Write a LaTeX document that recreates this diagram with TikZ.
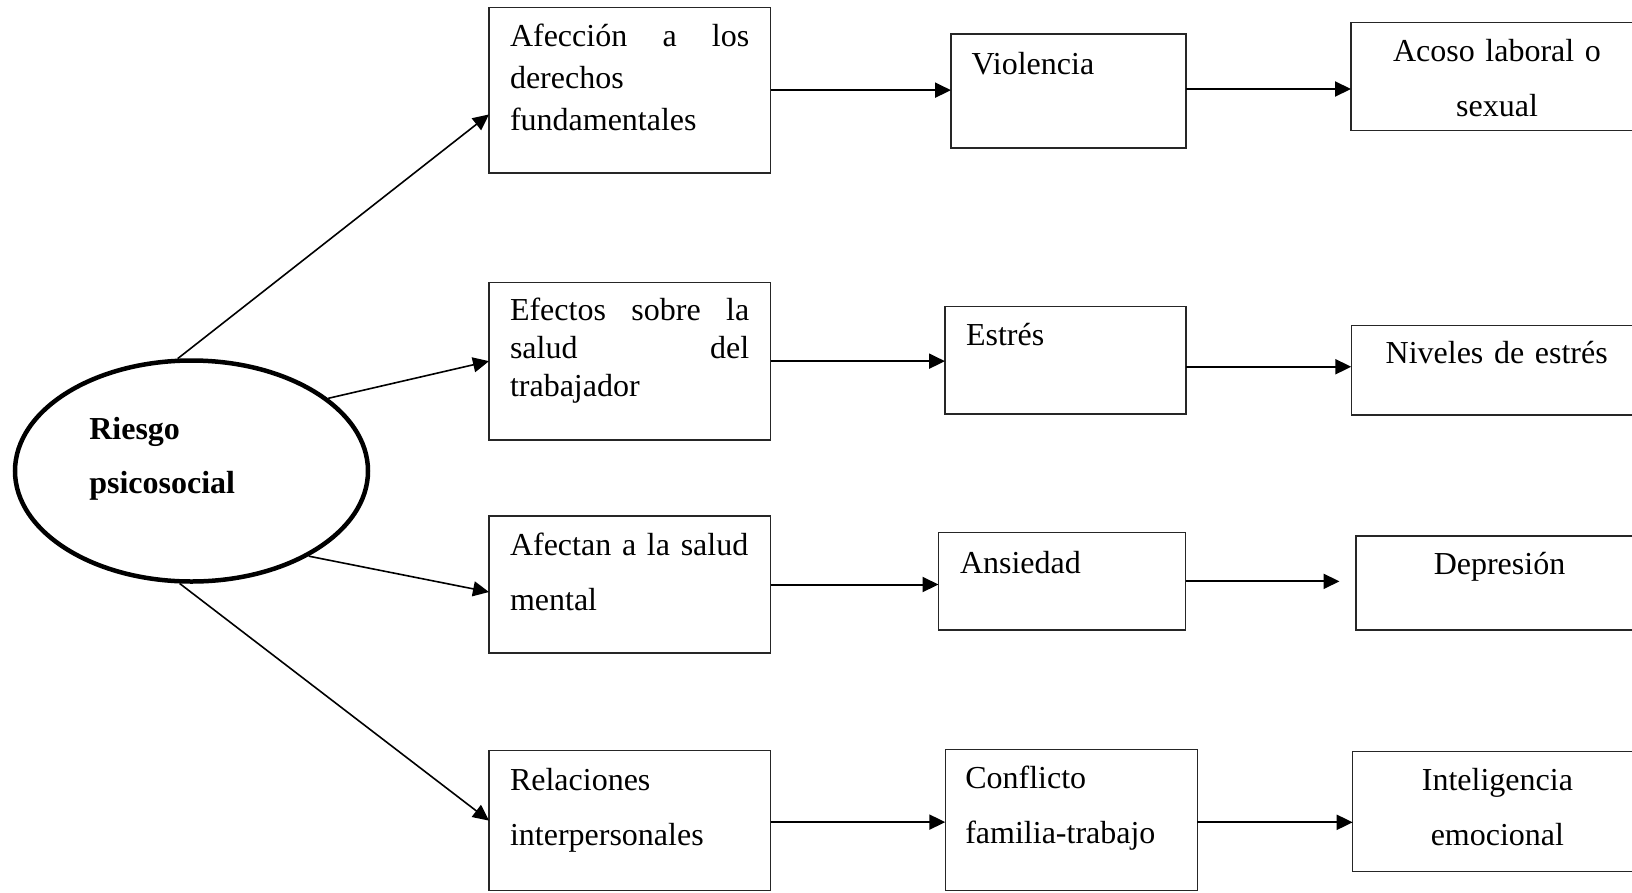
\documentclass[tikz,border=0pt]{standalone}
\usepackage{fontspec}
\setmainfont{Liberation Serif}
\usetikzlibrary{arrows.meta,shapes.geometric}
\newcommand\fsz[1]{\fontsize{32pt}{#1}\selectfont}
\begin{document}
\begin{tikzpicture}[x=1pt,y=-1pt,
  box/.style={draw=black!85, line width=1.3pt, rectangle, inner sep=0pt, outer sep=0pt, anchor=north west},
  txt/.style={inner sep=0pt, outer sep=0pt, anchor=base west, align=left},
  ctxt/.style={inner sep=0pt, outer sep=0pt, anchor=base, align=center, text width=320pt},
  conn/.style={line width=2pt, -{Triangle[length=16pt,width=15pt]}},
  diag/.style={line width=1.6pt, -{Triangle[length=16pt,width=15pt]}}]
\useasboundingbox (0,0) rectangle (1632,892);
\fill[white] (0,0) rectangle (1632,892);
\clip (0,0) rectangle (1632,892);

% ellipse
\node[ellipse, draw, line width=4.5pt, minimum width=353pt, minimum height=221pt, inner sep=0pt] (E) at (191.5,471) {};
\node[txt, text width=200pt, font=\bfseries\fsz{54.3pt}] (Et) at (89.3,439) {Riesgo\\psicosocial};

% column 1
\node[box, minimum width=281.5pt, minimum height=165.7pt] (B1) at (489,7.3) {};
\node[box, minimum width=281.5pt, minimum height=157.7pt] (B2) at (489,282.3) {};
\node[box, minimum width=281.5pt, minimum height=137pt] (B3) at (489,516) {};
\node[box, minimum width=281.5pt, minimum height=139.8pt] (B4) at (489,750.7) {};

\node[txt, text width=239.3pt, font=\fsz{42pt}] (B1t) at (510,46.7)
  {\makebox[239.3pt][l]{Afección\hfill a\hfill los}\\derechos\\fundamentales};
\node[txt, text width=239.3pt, font=\fsz{38pt}] (B2t) at (510,320.7)
  {\makebox[239.3pt][l]{Efectos\hfill sobre\hfill la}\\\makebox[239.3pt][l]{salud\hfill del}\\trabajador};
\node[txt, text width=238.3pt, font=\fsz{55pt}] (B3t) at (510,555)
  {\makebox[238.3pt][l]{Afectan\hfill a\hfill la\hfill salud}\\mental};
\node[txt, text width=260pt, font=\fsz{55pt}] (B4t) at (510,790)
  {Relaciones\\interpersonales};

% column 2
\node[box, minimum width=235pt, minimum height=114pt] (V) at (951,34) {};
\node[box, minimum width=241pt, minimum height=107.5pt] (S) at (945,306.5) {};
\node[box, minimum width=247.2pt, minimum height=97.3pt] (An) at (938.5,532.7) {};
\node[box, minimum width=252pt, minimum height=141.2pt] (C) at (945.3,749.3) {};

\node[txt, font=\fsz{42pt}] (Vt) at (971.7,74.3) {Violencia};
\node[txt, font=\fsz{42pt}] (St) at (966,345.7) {Estrés};
\node[txt, font=\fsz{42pt}] (Ant) at (960,573.3) {Ansiedad};
\node[txt, text width=230pt, font=\fsz{55pt}] (Ct) at (965.3,788.3) {Conflicto\\familia-trabajo};

% column 3
\node[box, minimum width=349pt, minimum height=108.4pt] (A) at (1351,22.3) {};
\node[box, minimum width=349pt, minimum height=89.3pt] (N) at (1351.3,325.7) {};
\node[box, minimum width=344pt, minimum height=94pt] (D) at (1356,536) {};
\node[box, minimum width=347pt, minimum height=120pt] (I) at (1352.7,751.7) {};

\node[ctxt, font=\fsz{54.3pt}] (At) at (1497,61.7) {Acoso laboral o\\sexual};
\node[ctxt, font=\fsz{42pt}] (Nt) at (1496.7,363.3) {Niveles de estrés};
\node[ctxt, font=\fsz{42pt}] (Dt) at (1499.5,574.5) {Depresión};
\node[ctxt, font=\fsz{55pt}] (It) at (1497.4,790) {Inteligencia\\emocional};

% connectors from ellipse
\draw[diag] (E.97) -- ([yshift=-24.3pt]B1.west);
\draw[diag] (E.28) -- (B2.west);
\draw[diag] (E.-36) -- ([yshift=-7.5pt]B3.west);
\draw[diag] (E.-96) -- (B4.west);

% horizontal connectors
\draw[conn] (B1.east) -- (B1.east -| V.west);
\draw[conn] ([yshift=2pt]V.east) -- ([yshift=2pt]V.east -| A.west);
\draw[conn] (B2.east) -- (B2.east -| S.west);
\draw[conn] ([yshift=-6.5pt]S.east) -- ([yshift=-6.5pt]S.east -| N.west);
\draw[conn] (B3.east) -- (B3.east -| An.west);
\coordinate (Dend) at (1339.5,582.5);
\draw[conn] (An.east) -- (An.east -| Dend);
\draw[conn] ([yshift=-1.5pt]B4.east) -- ([yshift=-1.5pt]B4.east -| C.west);
\draw[conn] ([yshift=-2.4pt]C.east) -- ([yshift=-2.4pt]C.east -| I.west);
\end{tikzpicture}
\end{document}
